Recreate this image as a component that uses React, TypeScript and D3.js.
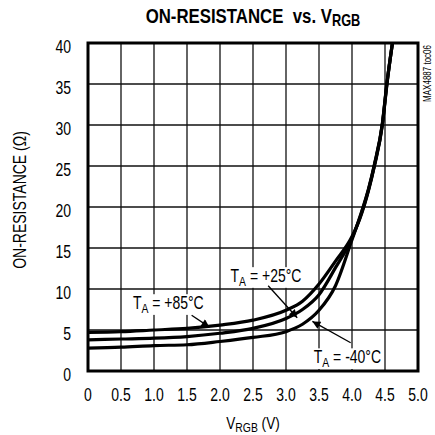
import React, { useEffect, useRef } from 'react';
import * as d3 from 'd3';

// V_RGB sample points (V)
const vrgb = [0, 0.5, 1.0, 1.5, 2.0, 2.5, 3.0, 3.25, 3.5, 3.75, 4.0, 4.12, 4.25, 4.34, 4.46, 4.53, 4.62];
// on-resistance (ohm) per temperature
const ron85 = [4.7, 4.8, 5.0, 5.2, 5.6, 6.2, 7.4, 8.5, 10.6, 13.4, 16.4, 18.6, 22.0, 25.0, 30.0, 35.0, 40.5];
const ron25 = [3.8, 3.9, 4.0, 4.2, 4.6, 5.2, 6.4, 7.5, 9.3, 12.6, 16.2, 18.7, 22.1, 25.1, 30.1, 35.1, 40.4];
const ronM40 = [2.8, 2.9, 3.1, 3.2, 3.6, 4.1, 4.8, 5.7, 7.4, 10.4, 16.0, 18.8, 22.2, 25.2, 30.2, 35.2, 40.3];

const xTicks = [0, 0.5, 1.0, 1.5, 2.0, 2.5, 3.0, 3.5, 4.0, 4.5, 5.0];
const yTicks = [0, 5, 10, 15, 20, 25, 30, 35, 40];

// label text, label anchor (V, ohm), arrow from -> to (V, ohm)
const labels = [
    { temp: '+85°C', lx: 0.68, ly: 7.6, ax1: 1.57, ay1: 6.8, ax2: 1.84, ay2: 5.35 },
    { temp: '+25°C', lx: 2.16, ly: 10.9, ax1: 2.73, ay1: 10.4, ax2: 3.17, ay2: 6.5 },
    { temp: '-40°C', lx: 3.42, ly: 1.0, ax1: 3.98, ay1: 3.45, ax2: 3.4, ay2: 6.05 },
];

const FONT = '"Liberation Sans", Arial, sans-serif';
const SQUEEZE = 0.8; // fake a narrow face

// condensed text: a group that is translated, optionally rotated, then squeezed
const ctext = (parent: any, x: number, y: number, size: number, anchor = 'start', rotate = 0) => {
    const grp = parent.append('g')
        .attr('transform', `translate(${x},${y}) rotate(${rotate}) scale(${SQUEEZE},1)`);
    return grp.append('text')
        .attr('text-anchor', anchor)
        .style('font-family', FONT)
        .style('font-size', `${size}px`);
};

const App = () => {
    const svgRef = useRef<SVGSVGElement>(null);

    useEffect(() => {
        const svg = d3.select(svgRef.current);
        svg.selectAll('*').remove();

        const margin = { top: 43, right: 17, bottom: 64, left: 88 };
        const width = 435;
        const height = 435;
        const w = width - margin.left - margin.right;
        const h = height - margin.top - margin.bottom;

        const x = d3.scaleLinear().domain([0, 5]).range([0, w]);
        const y = d3.scaleLinear().domain([0, 40]).range([h, 0]);

        svg.append('rect').attr('width', width).attr('height', height).attr('fill', '#fff');

        const defs = svg.append('defs');
        defs.append('marker')
            .attr('id', 'arr')
            .attr('viewBox', '0 0 10 10')
            .attr('refX', 10)
            .attr('refY', 5)
            .attr('markerWidth', 11)
            .attr('markerHeight', 8)
            .attr('markerUnits', 'userSpaceOnUse')
            .attr('orient', 'auto')
            .append('path')
            .attr('d', 'M0,0 L10,5 L0,10 Z')
            .attr('fill', '#000');

        // Title
        const title = ctext(svg, 253, 23, 21, 'middle').style('font-weight', 'bold');
        title.append('tspan').text('ON-RESISTANCE\u00a0\u00a0vs. V');
        title.append('tspan').attr('dy', 3).style('font-size', '16px').text('RGB');

        const g = svg.append('g').attr('transform', `translate(${margin.left},${margin.top})`);

        // Grid
        g.selectAll('.vgrid')
            .data(xTicks.slice(1, -1))
            .enter()
            .append('line')
            .attr('x1', d => x(d)).attr('x2', d => x(d))
            .attr('y1', 0).attr('y2', h)
            .attr('stroke', '#111').attr('stroke-width', 1.3);
        g.selectAll('.hgrid')
            .data(yTicks.slice(1, -1))
            .enter()
            .append('line')
            .attr('y1', d => y(d)).attr('y2', d => y(d))
            .attr('x1', 0).attr('x2', w)
            .attr('stroke', '#111').attr('stroke-width', 1.3);

        // Tick labels
        xTicks.forEach(d => {
            ctext(g, x(d), h + 29.5, 17.5, 'middle').text(d === 0 ? '0' : d.toFixed(1));
        });
        yTicks.forEach(d => {
            ctext(g, -17, y(d) + 9.5, 17.5, 'end').text(d);
        });

        // Axis titles
        const xl = ctext(svg, margin.left + w / 2, 429, 17, 'middle');
        xl.append('tspan').text('V');
        xl.append('tspan').attr('dy', 3).style('font-size', '13px').text('RGB');
        xl.append('tspan').attr('dy', -3).text(' (V)');

        ctext(svg, 26, margin.top + h / 2 - 7, 17.5, 'middle', -90).text('ON-RESISTANCE (Ω)');

        ctext(svg, 431, margin.top + 2, 10, 'end', -90).text('MAX4887 toc06');

        // Curves
        const clip = defs.append('clipPath').attr('id', 'plotclip');
        clip.append('rect').attr('width', w).attr('height', h);

        const line = d3.line<number>()
            .x((d, i) => x(vrgb[i]))
            .y(d => y(d))
            .curve(d3.curveMonotoneX);

        [ron85, ron25, ronM40].forEach(series => {
            g.append('path')
                .attr('clip-path', 'url(#plotclip)')
                .attr('d', line(series))
                .attr('fill', 'none')
                .attr('stroke', '#000')
                .attr('stroke-width', 3.2)
                .attr('stroke-linejoin', 'round');
        });

        // Labels with arrows
        labels.forEach(l => {
            const t = ctext(g, x(l.lx), y(l.ly), 17.5);
            t.append('tspan').text('T');
            t.append('tspan').attr('dy', 4).style('font-size', '13px').text('A');
            t.append('tspan').attr('dy', -4).text(' = ' + l.temp);
            const bb = (t.node() as SVGTextElement).getBBox();
            d3.select((t.node() as SVGTextElement).parentNode as SVGGElement)
                .insert('rect', 'text')
                .attr('x', bb.x - 2)
                .attr('y', bb.y + 1)
                .attr('width', bb.width + 4)
                .attr('height', bb.height - 1)
                .attr('fill', '#fff');

            g.append('line')
                .attr('x1', x(l.ax1)).attr('y1', y(l.ay1))
                .attr('x2', x(l.ax2)).attr('y2', y(l.ay2))
                .attr('stroke', '#000')
                .attr('stroke-width', 1.3)
                .attr('marker-end', 'url(#arr)');
        });

        // Frame
        g.append('rect')
            .attr('width', w)
            .attr('height', h)
            .attr('fill', 'none')
            .attr('stroke', '#000')
            .attr('stroke-width', 3);
    }, []);

    return (
        <svg
            ref={svgRef}
            width={435}
            height={435}
            style={{ position: 'absolute', left: 0, top: 0, display: 'block' }}
        />
    );
};

export default App;
